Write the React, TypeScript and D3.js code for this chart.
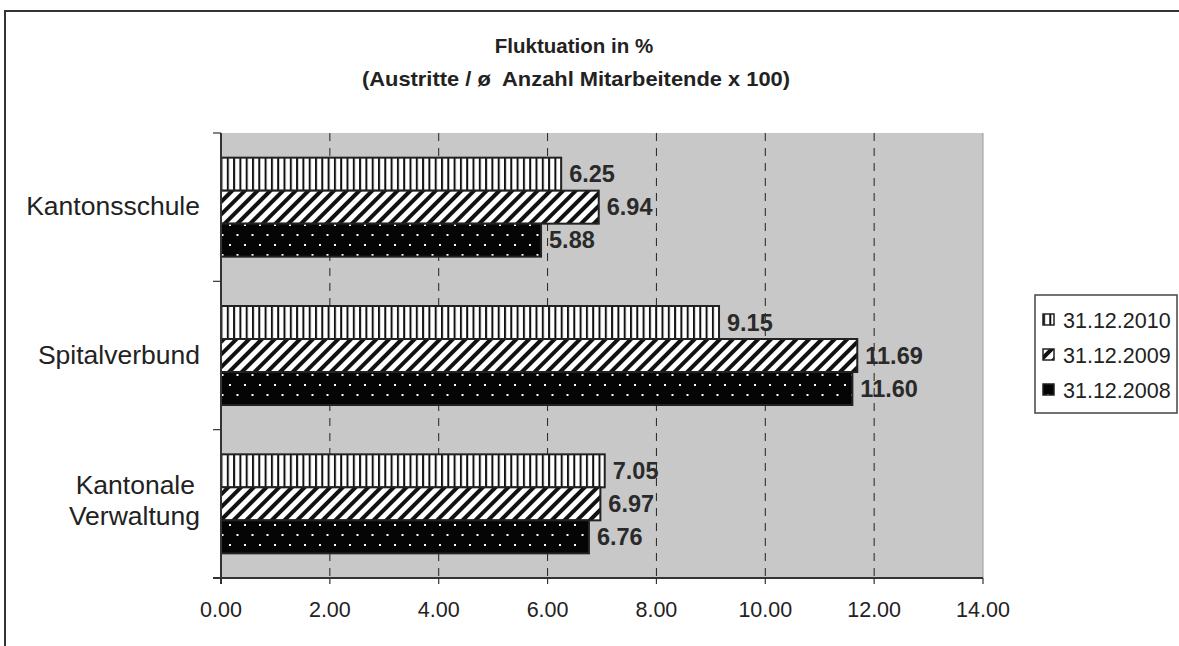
import {scaleBand, scaleLinear} from "d3";

const CATEGORIES = ["Kantonsschule", "Spitalverbund", "Kantonale Verwaltung"];
const SERIES = ["31.12.2010", "31.12.2009", "31.12.2008"];
const VALUES_2010 = [6.25, 9.15, 7.05];
const VALUES_2009 = [6.94, 11.69, 6.97];
const VALUES_2008 = [5.88, 11.6, 6.76];
const X_TICKS = [0, 2, 4, 6, 8, 10, 12, 14];

const SERIES_VALUES = [VALUES_2010, VALUES_2009, VALUES_2008];
const PATTERNS = ["pat-vert", "pat-diag", "pat-dots"];
const FONT = "'Liberation Sans', Arial, sans-serif";

export default function App() {
  const width = 1179;
  const height = 646;
  const plot = {left: 221, right: 983, top: 133, bottom: 578};

  const x = scaleLinear().domain([0, 14]).range([plot.left, plot.right]);
  const y = scaleBand<string>().domain(CATEGORIES).range([plot.top, plot.bottom]);
  const inner = scaleBand<string>().domain(SERIES).range([0, 99]);
  const groupOffset = (y.bandwidth() - 99) / 2;

  const bandEdges = CATEGORIES.map((c) => y(c) as number).concat([plot.bottom]);

  return (
    <svg
      width={width}
      height={height}
      style={{position: "fixed", left: 0, top: 0, background: "#fff", fontFamily: FONT}}
    >
      <defs>
        <pattern id="pat-vert" width={6.3} height={10} patternUnits="userSpaceOnUse">
          <rect width={6.3} height={10} fill="#fff" />
          <rect x={0} width={2} height={10} fill="#111" />
        </pattern>
        <pattern id="pat-diag" width={9} height={10} patternUnits="userSpaceOnUse" patternTransform="rotate(45)">
          <rect width={9} height={10} fill="#fff" />
          <rect x={0} width={4} height={10} fill="#111" />
        </pattern>
        <pattern id="pat-dots" width={15} height={20} patternUnits="userSpaceOnUse">
          <rect width={15} height={20} fill="#050505" />
          <rect x={4} y={4} width={2} height={2} fill="#fff" />
          <rect x={11.5} y={14} width={2} height={2} fill="#fff" />
        </pattern>
      </defs>

      <rect x={5} y={11} width={width} height={height} fill="none" stroke="#333" strokeWidth={2} />

      <text x={574} y={53} textAnchor="middle" fontWeight="bold" fontSize={20.5} fill="#222">
        Fluktuation in %
      </text>
      <text
        x={576}
        y={86}
        textAnchor="middle"
        fontWeight="bold"
        fontSize={20.5}
        fill="#222"
        textLength={428}
        lengthAdjust="spacingAndGlyphs"
        xmlSpace="preserve"
      >
        (Austritte / ø  Anzahl Mitarbeitende x 100)
      </text>

      <rect x={plot.left} y={plot.top} width={plot.right - plot.left} height={plot.bottom - plot.top} fill="#c8c8c9" />
      <line x1={plot.right} x2={plot.right} y1={plot.top} y2={plot.bottom} stroke="#9a9a9a" strokeWidth={1} />

      {X_TICKS.slice(1, -1).map((t) => (
        <line
          key={`g-${t}`}
          x1={x(t)}
          x2={x(t)}
          y1={plot.top}
          y2={plot.bottom}
          stroke="#222"
          strokeWidth={1}
          strokeDasharray="8 7"
        />
      ))}

      {CATEGORIES.map((cat, ci) =>
        SERIES.map((s, si) => {
          const v = SERIES_VALUES[si][ci];
          const top = (y(cat) as number) + groupOffset + (inner(s) as number);
          const h = inner.bandwidth();
          return (
            <g key={`${cat}-${s}`}>
              <rect
                x={x(0)}
                y={top}
                width={x(v) - x(0)}
                height={h}
                fill={`url(#${PATTERNS[si]})`}
                stroke="#222"
                strokeWidth={2}
              />
              <text
                x={x(v) + 8}
                y={top + h / 2 + 8}
                fontSize={23.5}
                fontWeight="bold"
                fill="#2a2a2a"
              >
                {v.toFixed(2)}
              </text>
            </g>
          );
        })
      )}

      <line x1={plot.left} x2={plot.left} y1={plot.top} y2={plot.bottom + 6} stroke="#333" strokeWidth={2} />
      <line x1={plot.left - 8} x2={plot.right} y1={plot.bottom} y2={plot.bottom} stroke="#333" strokeWidth={2} />

      {bandEdges.map((b, i) => (
        <line key={`yt-${i}`} x1={plot.left - 8} x2={plot.left} y1={b} y2={b} stroke="#333" strokeWidth={1.2} />
      ))}

      {X_TICKS.map((t) => (
        <g key={`xt-${t}`}>
          <line x1={x(t)} x2={x(t)} y1={plot.bottom} y2={plot.bottom + 6} stroke="#333" strokeWidth={1.2} />
          <text x={x(t)} y={plot.bottom + 39} textAnchor="middle" fontSize={21.5} fill="#222">
            {t.toFixed(2)}
          </text>
        </g>
      ))}

      {CATEGORIES.map((cat) => {
        const center = (y(cat) as number) + y.bandwidth() / 2;
        const words = cat === "Kantonale Verwaltung" ? ["Kantonale", "Verwaltung"] : [cat];
        return (
          <text key={cat} textAnchor="end" fontSize={26.5} fill="#222">
            {words.map((w, i) => (
              <tspan
                key={w}
                x={words.length > 1 && i === 0 ? 195 : 200}
                y={words.length > 1 ? center - 10 + i * 31 : center + 8}
              >
                {w}
              </tspan>
            ))}
          </text>
        );
      })}

      <rect x={1035} y={295} width={142} height={118} fill="#fff" stroke="#444" strokeWidth={1.5} />
      {SERIES.map((s, i) => (
        <g key={s} transform={`translate(1043,${320 + i * 35})`}>
          <rect x={0} y={-6} width={11} height={11} fill={`url(#${PATTERNS[i]})`} stroke="#222" strokeWidth={1.5} />
          <text x={20} y={7.5} fontSize={21.5} fill="#222">
            {s}
          </text>
        </g>
      ))}
    </svg>
  );
}
